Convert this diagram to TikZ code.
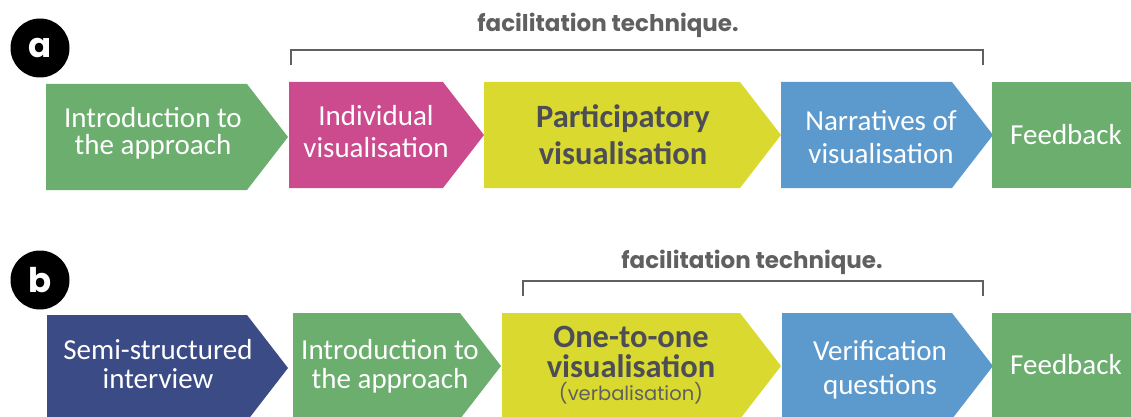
\documentclass[tikz,border=0pt]{standalone}
\usepackage{fontspec}
\setmainfont{Carlito}
\newfontfamily\geofont{Poppins}
\usetikzlibrary{positioning}
\definecolor{stGreen}{HTML}{6BAE6E}
\definecolor{stPink}{HTML}{CC4A8E}
\definecolor{stYellow}{HTML}{D9D92F}
\definecolor{stBlue}{HTML}{5C99CD}
\definecolor{stNavy}{HTML}{3B4B86}
\definecolor{stInk}{HTML}{4D4D57}
\definecolor{stGrey}{HTML}{606060}
\tikzset{
  stagetext/.style={text=white,align=center,inner sep=0pt,
    font=\fontsize{29}{#1}\selectfont},
  stagetext/.default=29,
  keytext/.style={text=stInk,align=center,inner sep=0pt,
    font=\bfseries\fontsize{32.5}{#1}\selectfont},
  keytext/.default=37,
  badge/.style={circle,fill=black,minimum size=59pt,inner sep=0pt,text=white,
    font=\geofont\bfseries\fontsize{34}{34}\selectfont},
  phase/.style={text=stGrey,anchor=base,inner sep=0pt,
    font=\geofont\bfseries\fontsize{23}{26}\selectfont},
  bracket/.style={draw=stGrey,line width=2pt},
}
\begin{document}
\begin{tikzpicture}[x=1pt,y=-1pt]
  \useasboundingbox (0,0) rectangle (1131,417);
  \clip (0,0) rectangle (1131,417);
  % arrow-shaped stages, x / width / top / colour
  \foreach \x/\w/\y/\c in {46/201/84/stGreen,289/154/82/stPink,484/256/82/stYellow,
      781/171/82/stBlue,47/200/315/stNavy,293/167/313/stGreen,502/238/313/stYellow,
      782/170/313/stBlue}
    \fill[\c] (\x,\y) -- ++(\w,0) -- ++(41,53) -- ++(-41,53) -- ++(-\w,0) -- cycle;
  \fill[stGreen] (992,82) rectangle (1131,188);
  \fill[stGreen] (992,313) rectangle (1131,419);

  % row a
  \node[badge] (badgeA) at (40,48) {a};
  \node[phase] (phaseA) at (608,32) {facilitation technique.};
  \coordinate (brAl) at (291,65);
  \coordinate (brAr) at (983,65);
  \draw[bracket] (brAl) -- ++(0,-15) -| (brAr);
  \node[stagetext=27] (introA) at (153,133) {Introduction to\\the approach};
  \node[stagetext=32] (indiv) at (376,132) {Individual\\visualisation};
  \node[keytext] (partic) at (623,135) {Participatory\\visualisation};
  \node[stagetext=33] (narr) at (881,137) {Narratives of\\visualisation};
  \node[stagetext] (feedA) at (1066,134.5) {Feedback};

  % row b
  \node[badge] (badgeB) at (40,280) {b};
  \node[phase] (phaseB) at (752,268) {facilitation technique.};
  \coordinate (brBl) at (523,296);
  \coordinate (brBr) at (983,296);
  \draw[bracket] (brBl) -- ++(0,-15) -| (brBr);
  \node[stagetext=29] (semi) at (158,364) {Semi-structured\\interview};
  \node[stagetext=29] (introB) at (390,366) {Introduction to\\the approach};
  \node[keytext=30] (one) at (631,365)
    {One-to-one\\visualisation\\[-7pt]{\geofont\mdseries\fontsize{19.5}{21}\selectfont\color{stGrey}(verbalisation)}};
  \node[stagetext=34] (verif) at (880,370) {Verification\\questions};
  \node[stagetext] (feedB) at (1066,364.5) {Feedback};
\end{tikzpicture}
\end{document}
